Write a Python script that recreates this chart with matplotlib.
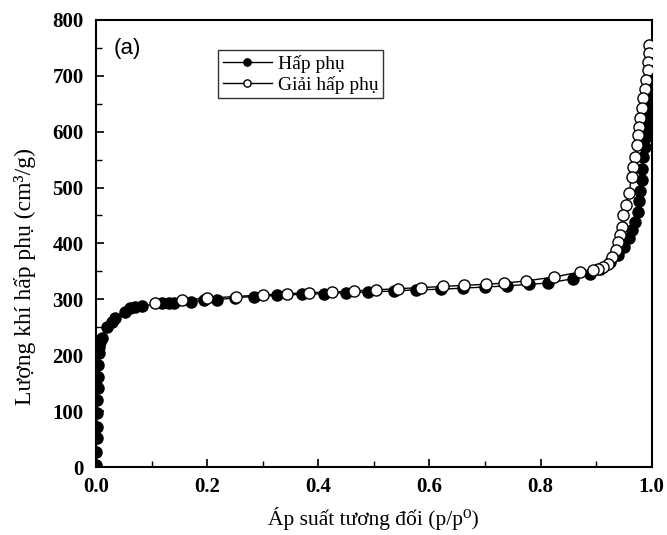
import matplotlib
matplotlib.use("Agg")
import matplotlib.pyplot as plt
from matplotlib.ticker import MultipleLocator

# Adsorption (filled)
ads_p = [0.0003, 0.0006, 0.001, 0.0015, 0.002, 0.0025, 0.003, 0.0035, 0.004, 0.005, 0.006, 0.008,
         0.010, 0.019, 0.028, 0.034, 0.052, 0.061, 0.070, 0.082, 0.119, 0.131, 0.140, 0.170, 0.194, 0.218,
         0.25, 0.284, 0.326, 0.37, 0.41, 0.45, 0.49, 0.537, 0.576, 0.62, 0.66, 0.70, 0.74, 0.78,
         0.813, 0.859, 0.889, 0.907, 0.925, 0.940, 0.951, 0.959, 0.965, 0.970, 0.975, 0.977, 0.979,
         0.982, 0.983, 0.985, 0.988, 0.989, 0.991, 0.993, 0.994, 0.995, 0.996, 0.997]
ads_v = [3, 27, 52, 72, 96, 120, 141, 161, 182, 204, 215, 224,
         230, 251, 260, 266, 278, 284, 286, 288, 293, 293, 294, 296, 298, 299,
         303, 305, 307, 309, 310, 312, 313, 315, 317, 318, 320, 322, 324, 327,
         329, 337, 346, 355, 367, 379, 394, 409, 424, 439, 457, 475, 493,
         513, 534, 555, 573, 591, 609, 627, 645, 666, 687, 703]

# Desorption (open)
des_p = [0.995, 0.995, 0.994, 0.993, 0.990, 0.988, 0.984, 0.982, 0.979, 0.977, 0.975, 0.973, 0.970,
         0.967, 0.964, 0.959, 0.953, 0.949, 0.946, 0.943, 0.940, 0.935, 0.929, 0.922, 0.913, 0.904,
         0.895, 0.871, 0.825, 0.774, 0.735, 0.702, 0.663, 0.624, 0.585, 0.543, 0.504, 0.465, 0.425,
         0.383, 0.344, 0.30, 0.251, 0.20, 0.155, 0.106]
des_v = [755, 740, 725, 710, 692, 677, 660, 642, 624, 609, 594, 576, 555,
         537, 519, 490, 469, 451, 430, 415, 403, 388, 376, 364, 358, 355,
         352, 349, 340, 333, 329, 327, 325, 323, 321, 319, 317, 315, 313,
         312, 310, 308, 305, 302, 299, 294]

x_ticks = [0.0, 0.2, 0.4, 0.6, 0.8, 1.0]
x_ticklabels = ['0.0', '0.2', '0.4', '0.6', '0.8', '1.0']

serif = ['Liberation Serif', 'DejaVu Serif']

fig = plt.figure(figsize=(6.67, 5.35), dpi=100)
ax = fig.add_axes([0.144, 0.127, 0.833, 0.836])

ax.plot(ads_p, ads_v, '-', color='black', lw=1.0, marker='o', ms=8,
        mfc='black', mec='black', label='Hấp phụ', zorder=2)
ax.plot(des_p, des_v, '-', color='black', lw=1.0, marker='o', ms=8,
        mfc='white', mec='black', mew=1.0, label='Giải hấp phụ', zorder=3)

ax.set_xlim(0, 1.0)
ax.set_ylim(0, 800)
ax.xaxis.set_major_locator(MultipleLocator(0.2))
ax.xaxis.set_minor_locator(MultipleLocator(0.1))
ax.yaxis.set_major_locator(MultipleLocator(100))
ax.yaxis.set_minor_locator(MultipleLocator(50))
ax.tick_params(which='both', direction='in', top=False, right=False)
ax.tick_params(which='major', length=6, width=1.2)
ax.tick_params(which='minor', length=4, width=1.0)
ax.tick_params(axis='x', which='major', pad=7.5)
ax.tick_params(axis='y', which='major', pad=9)
ax.set_xticks(x_ticks)
ax.set_xticklabels(x_ticklabels)
for lab in ax.get_xticklabels() + ax.get_yticklabels():
    lab.set_fontfamily(serif)
    lab.set_fontweight('bold')
    lab.set_fontsize(15)
for s in ax.spines.values():
    s.set_linewidth(1.5)

ax.set_xlabel('Áp suất tương đối (p/p⁰)', fontfamily=serif, fontsize=15.5)
ax.set_ylabel('Lượng khí hấp phụ (cm³/g)', fontfamily=serif, fontsize=17)
ax.xaxis.set_label_coords(0.5, -0.089)
ax.yaxis.set_label_coords(-0.108, 0.425)

ax.text(0.032, 0.96, '(a)', transform=ax.transAxes, fontsize=16,
        family=['Liberation Sans', 'DejaVu Sans'], va='top', ha='left')

leg = ax.legend(loc='upper left', bbox_to_anchor=(0.220, 0.933), frameon=True,
                fancybox=False, edgecolor='black', handlelength=2.5, handletextpad=0.3,
                borderpad=0.25, labelspacing=0.15, borderaxespad=0,
                prop={'family': serif, 'size': 14}, markerscale=0.65)
leg.get_frame().set_linewidth(1.0)

fig.savefig('out.png', dpi=100)
